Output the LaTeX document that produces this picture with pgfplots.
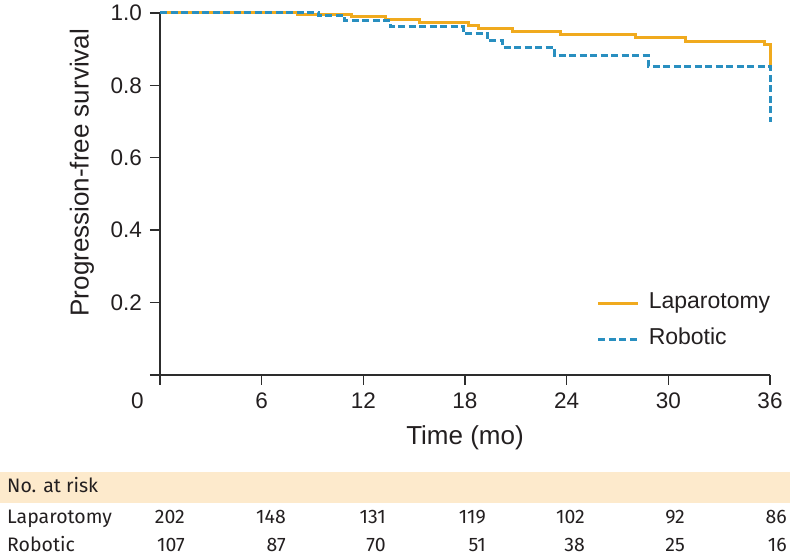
\documentclass[border=0pt]{standalone}
\usepackage{pgfplots}
\pgfplotsset{compat=1.18}
\usepackage{fontspec}
\setmainfont{Liberation Sans}
\newfontfamily\tabfont{Fira Sans}
\definecolor{lapc}{RGB}{240,170,30}
\definecolor{robc}{RGB}{41,143,192}
\definecolor{txt}{RGB}{35,31,32}
\definecolor{axc}{RGB}{45,45,45}
\definecolor{band}{RGB}{253,234,204}
\begin{document}
\begin{tikzpicture}[x=1pt,y=1pt]
\path[use as bounding box] (0,0) rectangle (790,557);
\fill[band] (0,54) rectangle (790,85);
\begin{axis}[
  at={(160pt,182pt)}, anchor=south west,
  scale only axis, width=610pt, height=362pt,
  xmin=0, xmax=36, ymin=0, ymax=1,
  axis lines=left,
  axis line style={-, line width=1.4pt, color=axc},
  xtick={0,6,12,18,24,30,36},
  xticklabels={,6,12,18,24,30,36},
  ytick={0,0.2,0.4,0.6,0.8,1},
  yticklabels={,0.2,0.4,0.6,0.8,1.0},
  tick align=outside, major tick length=10pt,
  tick style={line width=1.4pt, color=axc},
  ticklabel style={font=\fontsize{22.5}{22.5}\selectfont, text=txt},
  xticklabel style={inner sep=0pt, yshift=-8pt},
  yticklabel style={inner sep=0pt, xshift=-8pt},
  xlabel={Time (mo)},
  ylabel={Progression-free survival},
  label style={font=\fontsize{26}{26}\selectfont, text=txt},
  xlabel style={at={(axis description cs:0.5,-0.174)}, anchor=center},
  ylabel style={at={(axis description cs:-0.128,0.559)}, anchor=center},
  clip=false,
  legend style={draw=none, fill=none, inner sep=0pt, outer sep=0pt,
    at={(rel axis cs:0.716,0.221)}, anchor=north west,
    nodes={inner sep=0pt, text height=14pt, text depth=4pt},
    row sep=18pt, column sep=9pt,
    font=\fontsize{23}{23}\selectfont, text=txt},
  legend cell align=left,
  legend image code/.code={\draw[#1] (0pt,0pt) -- (40pt,0pt);},
]
\addplot[const plot, color=lapc, line width=3pt] coordinates {
  (0,1) (8.1,0.997) (11.3,0.990) (13.3,0.982) (15.3,0.975) (18.2,0.966)
  (18.8,0.958) (20.8,0.948) (23.65,0.940) (28.05,0.931) (31,0.920)
  (35.7,0.913) (36,0.855)};
\addlegendentry{Laparotomy}
\addplot[const plot, color=robc, line width=3pt, dash pattern=on 7pt off 3.5pt] coordinates {
  (0,1) (9.35,0.992) (10.9,0.979) (13.6,0.962) (17.9,0.944) (19.3,0.923)
  (20.2,0.905) (23.3,0.883) (28.8,0.853) (36,0.70)};
\addlegendentry{Robotic}
\end{axis}
\node[font=\fontsize{22.5}{22.5}\selectfont, text=txt] at (137.5,156) {0};
\begin{scope}[every node/.style={font=\tabfont\fontsize{19.5}{19.5}\selectfont, text=txt, inner sep=0pt}]
\node[anchor=base west] at (7,64) {No. at risk};
\node[anchor=base west] at (7,33) {Laparotomy};
\node[anchor=base west] at (7,5.5) {Robotic};
\foreach \x/\a/\b in {185/202/107, 286/148/87, 386/131/70, 486/119/51, 585/102/38, 685/92/25, 787/86/16} {
  \node[anchor=base east] at (\x,33) {\a};
  \node[anchor=base east] at (\x,5.5) {\b};
}
\end{scope}
\end{tikzpicture}
\end{document}
